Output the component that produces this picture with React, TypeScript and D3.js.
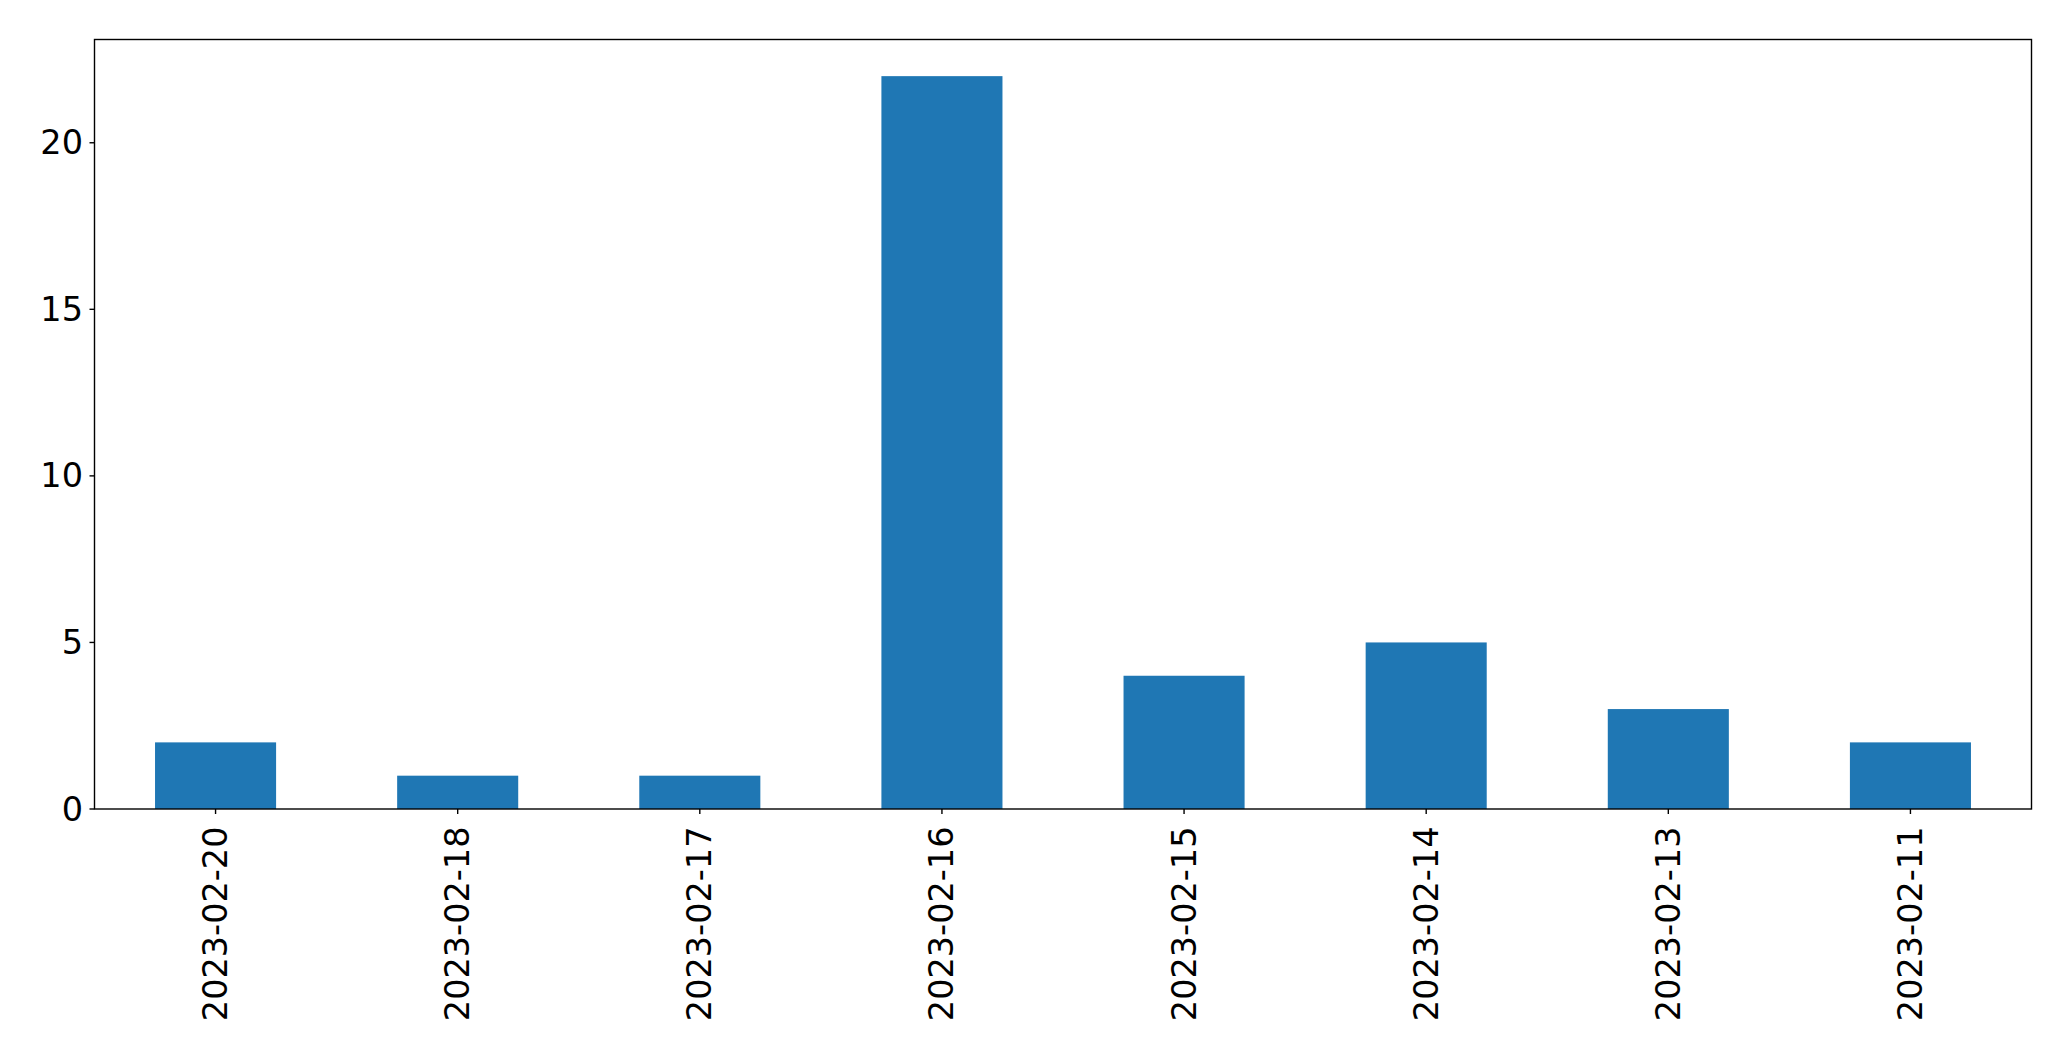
import React from "react";
import * as d3 from "d3";

const categories = ["2023-02-20", "2023-02-18", "2023-02-17", "2023-02-16", "2023-02-15", "2023-02-14", "2023-02-13", "2023-02-11"];
const values = [2, 1, 1, 22, 4, 5, 3, 2];
const yTicks = [0, 5, 10, 15, 20];

const W = 2071;
const H = 1061;
const M = { left: 94.5, top: 39.5, right: 2031.5, bottom: 809 };

export default function App() {
  const x = d3.scaleLinear().domain([-0.5, categories.length - 0.5]).range([M.left, M.right]);
  const yMax = d3.max(values)! * 1.05;
  const y = d3.scaleLinear().domain([0, yMax]).range([M.bottom, M.top]);
  const bw = x(0.25) - x(-0.25);
  const font = "'DejaVu Sans', sans-serif";
  const fs = 33.5;
  return (
    <svg width={W} height={H} style={{ position: "absolute", left: 0, top: 0, background: "#fff" }}>
      <rect x={0} y={0} width={W} height={H} fill="#fff" />
      {values.map((v, i) => (
        <rect key={i} x={x(i) - bw / 2} y={y(v)} width={bw} height={y(0) - y(v)} fill="#1f77b4" />
      ))}
      <rect x={M.left} y={M.top} width={M.right - M.left} height={M.bottom - M.top} fill="none" stroke="#000" strokeWidth={1.4} />
      {yTicks.map((t) => (
        <g key={t}>
          <line x1={M.left - 5} x2={M.left} y1={y(t)} y2={y(t)} stroke="#000" strokeWidth={1.4} />
          <text x={M.left - 11.5} y={y(t)} textAnchor="end" dominantBaseline="central" fontFamily={font} fontSize={fs} fill="#000">
            {t}
          </text>
        </g>
      ))}
      {categories.map((c, i) => (
        <g key={c}>
          <line x1={x(i)} x2={x(i)} y1={M.bottom} y2={M.bottom + 5} stroke="#000" strokeWidth={1.4} />
          <text
            transform={`translate(${x(i)},${M.bottom + 17.5}) rotate(-90)`}
            textAnchor="end"
            dominantBaseline="central"
            fontFamily={font}
            fontSize={fs}
            fill="#000"
          >
            {c}
          </text>
        </g>
      ))}
    </svg>
  );
}
